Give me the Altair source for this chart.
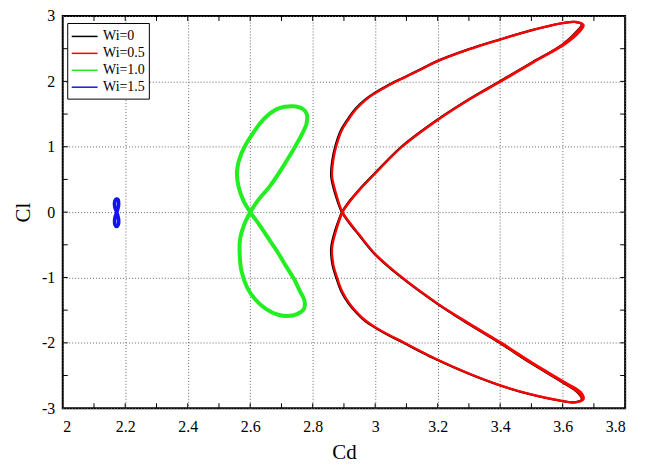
import altair as alt
import pandas as pd

# ---------------- data ----------------
series_names = ["Wi=0", "Wi=0.5", "Wi=1.0", "Wi=1.5"]
series_colors = ["#000000", "#ff0000", "#22ee22", "#1414f0"]

# Wi=0.5 (red) – two passes (tips spread slightly)
cd_red = [2.895, 2.875, 2.862, 2.866, 2.878, 2.895, 2.918, 2.945, 2.972, 3.000, 3.040, 3.086, 3.150, 3.200, 3.300, 3.400, 3.500, 3.600, 3.640, 3.663,
          3.650, 3.600, 3.500, 3.400, 3.300, 3.200, 3.086, 3.000, 2.950, 2.920, 2.895,
          2.875, 2.862, 2.866, 2.876, 2.893, 2.915, 2.940, 2.968, 3.000, 3.040, 3.090, 3.150, 3.200, 3.300, 3.400, 3.500, 3.600, 3.640, 3.663,
          3.650, 3.600, 3.500, 3.400, 3.300, 3.200, 3.086, 3.000, 2.950, 2.920, 2.895,
          2.875, 2.862, 2.866, 2.878, 2.895, 2.918, 2.945, 2.972, 3.000, 3.040, 3.086, 3.150, 3.200, 3.300, 3.400, 3.500, 3.600, 3.643, 3.667,
          3.657, 3.610, 3.508, 3.404, 3.300, 3.200, 3.086, 3.000, 2.950, 2.920, 2.895,
          2.875, 2.862, 2.866, 2.876, 2.893, 2.915, 2.940, 2.968, 3.000, 3.040, 3.090, 3.150, 3.200, 3.300, 3.400, 3.500, 3.600, 3.643, 3.667,
          3.656, 3.608, 3.506, 3.403, 3.300, 3.200, 3.086, 3.000, 2.950, 2.920, 2.895]
cl_red = [0.00, -0.28, -0.55, -0.80, -1.00, -1.22, -1.40, -1.55, -1.67, -1.76, -1.87, -1.98, -2.14, -2.26, -2.47, -2.65, -2.79, -2.89, -2.91, -2.87,
          -2.76, -2.60, -2.31, -2.00, -1.71, -1.40, -1.00, -0.64, -0.35, -0.17, 0.00,
          0.28, 0.55, 0.80, 1.02, 1.25, 1.42, 1.58, 1.71, 1.82, 1.93, 2.05, 2.19, 2.31, 2.49, 2.64, 2.78, 2.89, 2.91, 2.87,
          2.78, 2.56, 2.28, 2.00, 1.72, 1.41, 1.00, 0.59, 0.34, 0.17, 0.00,
          -0.28, -0.55, -0.80, -1.00, -1.22, -1.40, -1.55, -1.67, -1.76, -1.87, -1.98, -2.14, -2.26, -2.47, -2.65, -2.79, -2.89, -2.91, -2.86,
          -2.75, -2.61, -2.32, -2.00, -1.70, -1.40, -1.00, -0.64, -0.35, -0.17, 0.00,
          0.28, 0.55, 0.80, 1.02, 1.25, 1.42, 1.58, 1.71, 1.82, 1.93, 2.05, 2.19, 2.31, 2.49, 2.64, 2.78, 2.89, 2.91, 2.86,
          2.77, 2.57, 2.29, 2.00, 1.72, 1.41, 1.00, 0.59, 0.34, 0.17, 0.00]

# Wi=0 (black) – almost hidden under red
cd_black = [2.893, 2.872, 2.859, 2.863, 2.875, 2.892, 2.915, 2.942, 2.969, 2.997, 3.037, 3.083, 3.147, 3.198, 3.298, 3.398, 3.498, 3.598, 3.638, 3.661,
            3.648, 3.598, 3.498, 3.398, 3.298, 3.198, 3.084, 2.998, 2.948, 2.918, 2.893,
            2.872, 2.859, 2.863, 2.873, 2.890, 2.912, 2.937, 2.965, 2.997, 3.037, 3.087, 3.147, 3.198, 3.298, 3.398, 3.498, 3.598, 3.638, 3.661,
            3.648, 3.598, 3.498, 3.398, 3.298, 3.198, 3.084, 2.998, 2.948, 2.918, 2.893]
cl_black = [0.00, -0.28, -0.55, -0.80, -1.00, -1.22, -1.40, -1.55, -1.67, -1.76, -1.87, -1.98, -2.14, -2.26, -2.47, -2.65, -2.79, -2.89, -2.91, -2.87,
            -2.76, -2.60, -2.31, -2.00, -1.71, -1.40, -1.00, -0.64, -0.35, -0.17, 0.00,
            0.28, 0.55, 0.80, 1.02, 1.25, 1.42, 1.58, 1.71, 1.82, 1.93, 2.05, 2.19, 2.31, 2.49, 2.64, 2.78, 2.89, 2.91, 2.87,
            2.78, 2.56, 2.28, 2.00, 1.72, 1.41, 1.00, 0.59, 0.34, 0.17, 0.00]

# Wi=1.0 (green)
cd_green = [2.600, 2.625, 2.662, 2.695, 2.725, 2.762, 2.780, 2.781, 2.768, 2.736, 2.693, 2.651, 2.609, 2.572, 2.558,
            2.562, 2.578, 2.600, 2.630, 2.662, 2.690, 2.715, 2.740, 2.757, 2.774, 2.772, 2.750, 2.720, 2.689,
            2.650, 2.615, 2.590, 2.572, 2.566, 2.568, 2.580, 2.600]
cl_green = [0.00, 0.18, 0.39, 0.62, 0.85, 1.16, 1.35, 1.50, 1.58, 1.62, 1.59, 1.46, 1.21, 0.90, 0.64,
            0.40, 0.18, 0.00, -0.20, -0.43, -0.63, -0.83, -1.02, -1.19, -1.36, -1.48, -1.56, -1.59, -1.57,
            -1.48, -1.33, -1.15, -0.90, -0.58, -0.40, -0.20, 0.00]

# Wi=1.5 (blue)
cd_blue = [2.173, 2.177, 2.179, 2.177, 2.172, 2.167, 2.166, 2.169, 2.173, 2.169, 2.166, 2.167, 2.172, 2.178, 2.179, 2.176, 2.173]
cl_blue = [0.00, 0.06, 0.13, 0.19, 0.20, 0.17, 0.10, 0.04, 0.00, -0.05, -0.12, -0.19, -0.22, -0.19, -0.12, -0.05, 0.00]

x_major = [2, 2.2, 2.4, 2.6, 2.8, 3, 3.2, 3.4, 3.6, 3.8]
y_major = [-3, -2, -1, 0, 1, 2, 3]
x_ticks = [2.1, 2.2, 2.3, 2.4, 2.5, 2.6, 2.7, 2.8, 2.9, 3.0, 3.1, 3.2, 3.3, 3.4, 3.5, 3.6, 3.7]
y_ticks = [-2.5, -2, -1.5, -1, -0.5, 0, 0.5, 1, 1.5, 2, 2.5]

# ---------------- build chart ----------------
W, H = 565, 394
FONT = "Liberation Serif"

def frame(name, cd, cl):
    return pd.DataFrame({"Cd": cd, "Cl": cl, "series": name, "i": range(len(cd))})

xs = alt.Scale(domain=[2, 3.8], nice=False, zero=False)
ys = alt.Scale(domain=[-3, 3], nice=False, zero=False)
cs = alt.Scale(domain=series_names, range=series_colors)

legend = alt.Legend(orient="none", legendX=4.5, legendY=7, title=None,
                    symbolType="M-1.5,0H1.5", symbolSize=300, symbolStrokeWidth=1.5,
                    symbolFillColor="transparent", symbolOffset=4,
                    labelFont=FONT, labelFontSize=14, labelColor="black",
                    labelExpr="datum.label + '\u00a0\u00a0\u00a0\u00a0'",
                    padding=4, rowPadding=0, labelOffset=9,
                    strokeColor="black", fillColor="white", cornerRadius=0)

axis_common = dict(labelFont=FONT, labelFontSize=16, labelColor="black",
                   titleFont=FONT, titleFontSize=21, titleFontWeight="normal", titleColor="black",
                   labelExpr="datum.value + ''", domain=False, ticks=False, grid=True,
                   gridDash=[1, 2], gridColor="#666666", gridWidth=1)
x_axis = alt.Axis(values=x_major, labelPadding=10, titlePadding=8, **axis_common)
y_axis = alt.Axis(values=y_major, labelPadding=8, titlePadding=8, **axis_common)

x_enc = alt.X("Cd:Q", scale=xs, title="Cd", axis=x_axis)
y_enc = alt.Y("Cl:Q", scale=ys, title="Cl", axis=y_axis)

def line_layer(df, width):
    return alt.Chart(df).mark_line(strokeWidth=width, strokeJoin="round",
                                   interpolate="catmull-rom").encode(
        x=x_enc, y=y_enc,
        color=alt.Color("series:N", scale=cs, legend=legend),
        order="i:Q",
    )

layers = [
    line_layer(frame("Wi=0", cd_black, cl_black), 2.2),
    line_layer(frame("Wi=0.5", cd_red, cl_red), 2.3),
    line_layer(frame("Wi=1.0", cd_green, cl_green), 4.0),
    line_layer(frame("Wi=1.5", cd_blue, cl_blue), 3.6),
]

tx = pd.DataFrame({"v": x_ticks})
ty = pd.DataFrame({"v": y_ticks})
tick_style = dict(color="black", strokeWidth=1)
tx_enc = alt.X("v:Q", scale=xs, title="Cd", axis=x_axis)
ty_enc = alt.Y("v:Q", scale=ys, title="Cl", axis=y_axis)
tick_layers = [
    alt.Chart(tx).mark_rule(**tick_style).encode(x=tx_enc, y=alt.value(H), y2=alt.value(H - 5)),
    alt.Chart(tx).mark_rule(**tick_style).encode(x=tx_enc, y=alt.value(0), y2=alt.value(5)),
    alt.Chart(ty).mark_rule(**tick_style).encode(y=ty_enc, x=alt.value(0), x2=alt.value(5)),
    alt.Chart(ty).mark_rule(**tick_style).encode(y=ty_enc, x=alt.value(W), x2=alt.value(W - 5)),
]

chart = alt.layer(*layers, *tick_layers).properties(
    width=W, height=H, autosize="none",
    padding={"left": 55, "top": 7, "right": 30, "bottom": 55},
).configure_view(stroke="black", strokeWidth=2).configure_axis(labelFont=FONT, titleFont=FONT)

chart.save("out.html", embed_options={"renderer": "svg", "actions": False})
